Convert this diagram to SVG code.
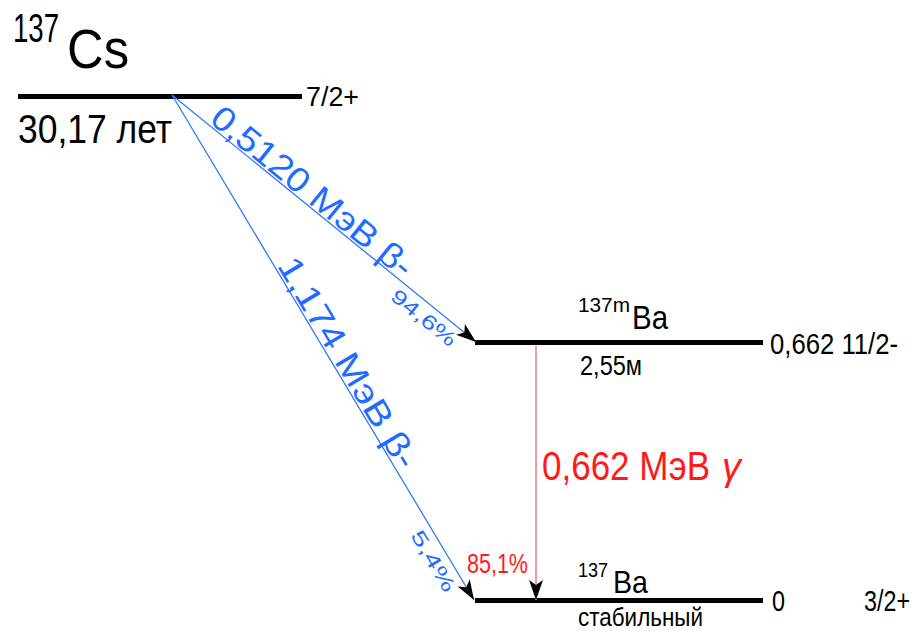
<svg xmlns="http://www.w3.org/2000/svg" width="919" height="631" viewBox="0 0 919 631">
<style>
text { font-family: "Liberation Sans", Arial, sans-serif; fill: #000; }
.lvl { stroke: #000; stroke-width: 5; }
.beta { stroke: #2f7bf2; stroke-width: 1.3; fill: none; }
.gam { stroke: #f07a7a; stroke-width: 1.5; fill: none; }
.bt { fill: #1f6cff; }
.rt { fill: #ff1a1a; }
</style>
<defs>
<marker id="ah" markerUnits="userSpaceOnUse" markerWidth="22" markerHeight="14" refX="20" refY="7" orient="auto">
<path d="M0,0 L20,7 L0,14 L5,7 z" fill="#000"/>
</marker>
</defs>
<rect width="919" height="631" fill="#fff"/>

<g id="cs137">
<line class="lvl" x1="18" y1="96.5" x2="302" y2="96.5"/>
<text x="13" y="42" font-size="40" textLength="46" lengthAdjust="spacingAndGlyphs">137</text>
<text x="67" y="68" font-size="56" textLength="62" lengthAdjust="spacingAndGlyphs">Cs</text>
<text x="306" y="106" font-size="27" textLength="53" lengthAdjust="spacingAndGlyphs">7/2+</text>
<text x="18" y="143" font-size="41" textLength="154" lengthAdjust="spacingAndGlyphs">30,17 лет</text>
</g>

<g id="ba137m">
<line class="lvl" x1="475" y1="342.5" x2="763" y2="342.5"/>
<text x="578" y="312" font-size="20" textLength="52" lengthAdjust="spacingAndGlyphs">137m</text>
<text x="632" y="329" font-size="33" textLength="36" lengthAdjust="spacingAndGlyphs">Ba</text>
<text x="580" y="375" font-size="27" textLength="62" lengthAdjust="spacingAndGlyphs">2,55м</text>
<text x="770" y="354" font-size="29" textLength="128" lengthAdjust="spacingAndGlyphs">0,662 11/2-</text>
</g>

<g id="ba137">
<line class="lvl" x1="475" y1="600.5" x2="763" y2="600.5"/>
<text x="578" y="577" font-size="21" textLength="30" lengthAdjust="spacingAndGlyphs">137</text>
<text x="613" y="593" font-size="32" textLength="35" lengthAdjust="spacingAndGlyphs">Ba</text>
<text x="578" y="626" font-size="26" textLength="125" lengthAdjust="spacingAndGlyphs">стабильный</text>
<text x="772" y="611" font-size="30" textLength="13" lengthAdjust="spacingAndGlyphs">0</text>
<text x="864" y="611" font-size="30" textLength="46" lengthAdjust="spacingAndGlyphs">3/2+</text>
</g>

<g id="connectors">
<line class="beta" x1="172" y1="95" x2="476" y2="342" marker-end="url(#ah)"/>
<line class="beta" x1="172" y1="95" x2="474" y2="600" marker-end="url(#ah)"/>
<line class="gam" x1="536" y1="346" x2="536" y2="600" marker-end="url(#ah)"/>
</g>

<g id="labels">
<g transform="translate(172,95) rotate(39.1)">
<text class="bt" x="45" y="-2" font-size="34" textLength="250" lengthAdjust="spacingAndGlyphs">0,5120 МэВ β-</text>
<text class="bt" x="297" y="21" font-size="20" textLength="78" lengthAdjust="spacingAndGlyphs">94,6%</text>
</g>
<g transform="translate(172,95) rotate(59.1)">
<text class="bt" x="200" y="-2" font-size="34" textLength="240" lengthAdjust="spacingAndGlyphs">1,174 МэВ β-</text>
<text class="bt" x="500" y="22" font-size="20" textLength="68" lengthAdjust="spacingAndGlyphs">5,4%</text>
</g>
<text class="rt" x="542" y="480" font-size="40" textLength="168" lengthAdjust="spacingAndGlyphs">0,662 МэВ</text>
<text class="rt" x="722" y="480" font-size="38" font-style="italic">γ</text>
<text class="rt" x="467" y="573" font-size="27" textLength="61" lengthAdjust="spacingAndGlyphs">85,1%</text>
</g>
</svg>
